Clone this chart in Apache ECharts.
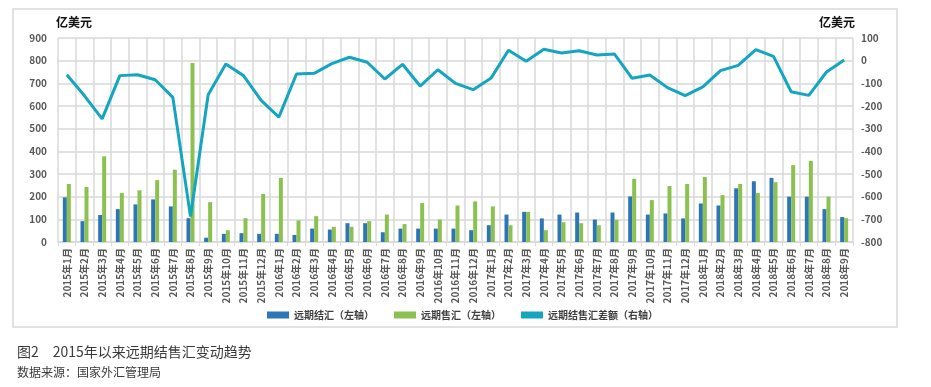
<!DOCTYPE html>
<html>
<head>
<meta charset="utf-8">
<script src="https://cdn.jsdelivr.net/npm/echarts@6/dist/echarts.min.js"></script>
<style>
html,body{margin:0;padding:0;background:#fff;}
#c{width:931px;height:387px;}
</style>
</head>
<body>
<div id="c"></div>
<script>
const months = [
 '2015年1月','2015年2月','2015年3月','2015年4月','2015年5月','2015年6月','2015年7月','2015年8月','2015年9月','2015年10月','2015年11月','2015年12月',
 '2016年1月','2016年2月','2016年3月','2016年4月','2016年5月','2016年6月','2016年7月','2016年8月','2016年9月','2016年10月','2016年11月','2016年12月',
 '2017年1月','2017年2月','2017年3月','2017年4月','2017年5月','2017年6月','2017年7月','2017年8月','2017年9月','2017年10月','2017年11月','2017年12月',
 '2018年1月','2018年2月','2018年3月','2018年4月','2018年5月','2018年6月','2018年7月','2018年8月','2018年9月'
];
const settle = [197,92,119,145,166,188,157,105,19,36,39,36,
 36,31,59,55,83,83,43,59,59,59,59,52,
 74,121,133,104,121,130,99,130,201,121,126,104,
 170,161,237,268,283,200,200,145,110];
const sale = [256,243,378,216,228,273,319,790,176,52,105,212,
 283,95,114,67,67,92,121,79,172,99,161,179,
 157,74,133,52,87,83,74,98,279,185,247,256,
 287,207,256,216,264,339,358,200,105];
const net = [-62,-155,-257,-66,-62,-84,-162,-688,-150,-15,-66,-175,
 -249,-59,-56,-13,15,-7,-81,-16,-112,-40,-100,-128,
 -78,46,-3,50,34,44,25,29,-78,-63,-119,-154,
 -116,-44,-21,49,19,-137,-153,-50,3];
const leftTicks = {min:0, max:900, interval:100};
const rightTicks = {min:-800, max:100, interval:100};
const unitName = '亿美元';
const seriesNames = ['远期结汇（左轴）','远期售汇（左轴）','远期结售汇差额（右轴）'];
const captionText = '图2　2015年以来远期结售汇变动趋势';
const sourceText = '数据来源：国家外汇管理局';

const FONT = '"Noto Sans CJK SC", "Noto Sans", sans-serif';
const grid = '#d9d9d9';
const chart = echarts.init(document.getElementById('c'), null, {renderer:'canvas'});
chart.setOption({
  animation:false,
  backgroundColor:'#fff',
  textStyle:{fontFamily:FONT},
  title:[
    {text:captionText, left:12, top:340, textStyle:{fontFamily:FONT, fontSize:14, fontWeight:'normal', color:'#3a3a3a'}},
    {text:sourceText, left:12, top:361, textStyle:{fontFamily:FONT, fontSize:12, fontWeight:'normal', color:'#3a3a3a'}}
  ],
  graphic:[{type:'rect', shape:{x:13, y:9, width:884, height:318}, style:{fill:'none', stroke:'#d9d9d9', lineWidth:1.5}, silent:true, z:-1}],
  grid:{left:58, right:78, top:38, bottom:145, containLabel:false},
  legend:{
    left:262, top:305, itemWidth:22, itemHeight:7, itemGap:20,
    textStyle:{fontFamily:FONT, fontSize:10, fontWeight:'bold', color:'#404040'},
    data:[{name:seriesNames[0], icon:'rect'},{name:seriesNames[1], icon:'rect'},{name:seriesNames[2], icon:'rect'}]
  },
  xAxis:{
    type:'category', data:months, boundaryGap:true,
    axisLine:{lineStyle:{color:grid, width:1.5}},
    axisTick:{show:true, lineStyle:{color:grid}, length:4, interval:0},
    axisLabel:{rotate:90, interval:0, fontSize:10, fontWeight:'bold', color:'#595959', margin:6, fontFamily:FONT},
    splitLine:{show:true, interval:0, lineStyle:{color:grid, width:1.5}}
  },
  yAxis:[
    {type:'value', min:leftTicks.min, max:leftTicks.max, interval:leftTicks.interval,
     name:unitName, nameLocation:'end', nameGap:10,
     nameTextStyle:{fontFamily:FONT, fontSize:12, fontWeight:'bold', color:'#111', align:'left', padding:[0,0,0,-2]},
     axisLine:{show:false}, axisTick:{show:false},
     axisLabel:{fontSize:10, fontWeight:'bold', color:'#595959', margin:11},
     splitLine:{lineStyle:{color:grid, width:1.5}}},
    {type:'value', min:rightTicks.min, max:rightTicks.max, interval:rightTicks.interval,
     name:unitName, nameLocation:'end', nameGap:10,
     nameTextStyle:{fontFamily:FONT, fontSize:12, fontWeight:'bold', color:'#111', align:'right', padding:[0,-2,0,0]},
     axisLine:{show:false}, axisTick:{show:false},
     axisLabel:{fontSize:10, fontWeight:'bold', color:'#595959', margin:8},
     splitLine:{show:false}}
  ],
  series:[
    {name:seriesNames[0], type:'bar', yAxisIndex:0, data:settle, barWidth:4, barGap:'0%',
     itemStyle:{color:'#2e75b6'}},
    {name:seriesNames[1], type:'bar', yAxisIndex:0, data:sale, barWidth:4, barGap:'0%',
     itemStyle:{color:'#8cc152'}},
    {name:seriesNames[2], type:'line', yAxisIndex:1, data:net, symbol:'none', showSymbol:false,
     lineStyle:{color:'#14a5bf', width:3}, itemStyle:{color:'#14a5bf'}, z:5}
  ]
});
</script>
</body>
</html>
